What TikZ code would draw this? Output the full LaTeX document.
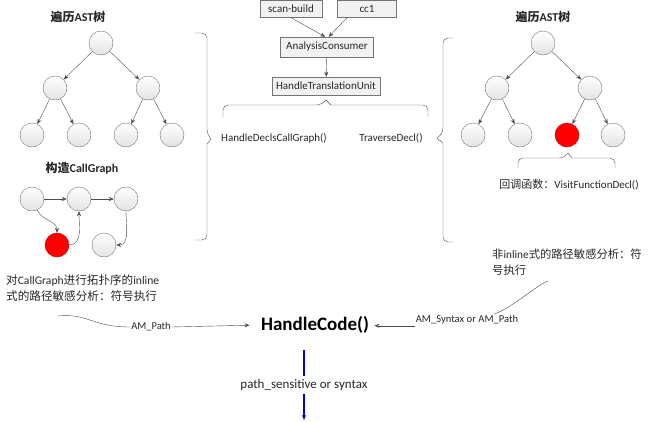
\documentclass[tikz,border=0pt]{standalone}
\usepackage{fontspec}
\setmainfont{Carlito}
\newfontfamily\cjk{Noto Sans CJK SC}
\usetikzlibrary{arrows.meta}

\begin{document}
\begin{tikzpicture}[x=1pt,y=-1pt,>={Stealth[length=5pt,width=4pt]},
    every node/.style={font=\fontsize{11}{14}\selectfont,text=black!85},
    ball/.style={circle,draw=gray!90!black,top color=white,bottom color=gray!22,minimum size=24pt,inner sep=0pt},
    hotball/.style={circle,draw=red!75!black,fill=red,minimum size=24pt,inner sep=0pt},
    stage/.style={draw=gray!90!black,fill=gray!10,minimum height=17pt,inner sep=2pt},
    title/.style={font=\bfseries\fontsize{12}{14}\selectfont},
    link/.style={->,gray!60!black,thin},
    curly/.style={gray!60!black,thin}]

    \useasboundingbox (0,0) rectangle (650,421);

    % left tree
    \node[title] (lefttitle) at (78,17) {{\cjk 遍历}AST{\cjk 树}};
    \node[ball] (lroot) at (101,43) {};
    \node[ball] (la) at (55,88) {};
    \node[ball] (lb) at (148,88) {};
    \node[ball] (la1) at (32,135) {};
    \node[ball] (la2) at (79,135) {};
    \node[ball] (lb1) at (126,135) {};
    \node[ball] (lb2) at (172,135) {};
    \foreach \from/\to in {lroot/la,lroot/lb,la/la1,la/la2,lb/lb1,lb/lb2}
        \draw[link] (\from) -- (\to);

    % call graph
    \node[title] (cgtitle) at (82,168) {{\cjk 构造}CallGraph};
    \node[ball] (cg1) at (32,199) {};
    \node[ball] (cg2) at (79,199) {};
    \node[ball] (cg3) at (126,199) {};
    \node[hotball] (cgred) at (57,245) {};
    \node[ball] (cg5) at (104,245) {};
    \draw[link] (cg1) -- (cg2);
    \draw[link] (cg2) -- (cg3);
    \draw[link] (cg1.-65) to[out=-65,in=90] (cgred.north);
    \draw[link] (cgred.east) to[out=0,in=-90] (cg2.south);
    \draw[link] (cg3.south) to[out=-90,in=0] (cg5.east);
    \node[align=left,anchor=north west,inner sep=0pt,font=\fontsize{11.6}{16}\selectfont] (cgnote) at (6,274)
        {{\cjk 对}CallGraph{\cjk 进行拓扑序的}inline\\{\cjk 式的路径敏感分析：符号执行}};

    % middle column
    \node[stage,minimum width=62pt] (scan) at (291,9) {scan-build};
    \node[stage,minimum width=59pt] (cc) at (367,9) {cc1};
    \node[stage,minimum width=93pt,minimum height=20pt] (consumer) at (327,47) {AnalysisConsumer};
    \node[stage,minimum width=108pt,minimum height=18pt] (htu) at (326,86) {HandleTranslationUnit};
    \draw[link] (scan.south) -- (consumer.100);
    \draw[link] ([xshift=-20pt]cc.south) -- (consumer.80);
    \draw[link] (consumer) -- (htu);
    \draw[curly,rounded corners=5pt] (223,117) -- (223,105) -- (321,105) [sharp corners] -- (326,100) -- (331,105) [rounded corners=5pt] -- (428,105) -- (428,117);
    \node (hdcg) at (274,138) {HandleDeclsCallGraph()};
    \node (tdecl) at (391,138) {TraverseDecl()};

    % big braces
    \draw[curly,rounded corners=5pt] (195,33) -- (207,33) -- (207,134) [sharp corners] -- (211,139) -- (207,144) [rounded corners=5pt] -- (207,240) -- (195,240);
    \draw[curly,rounded corners=5pt] (453,38) -- (443,38) -- (443,133) [sharp corners] -- (437,138) -- (443,143) [rounded corners=5pt] -- (443,242) -- (453,242);

    % right tree
    \node[title] (righttitle) at (543,17) {{\cjk 遍历}AST{\cjk 树}};
    \node[ball] (rroot) at (543,43) {};
    \node[ball] (ra) at (497,88) {};
    \node[ball] (rb) at (590,88) {};
    \node[ball] (ra1) at (473,135) {};
    \node[ball] (ra2) at (520,135) {};
    \node[hotball] (rb1) at (567,135) {};
    \node[ball] (rb2) at (613,135) {};
    \foreach \from/\to in {rroot/ra,rroot/rb,ra/ra1,ra/ra2,rb/rb1,rb/rb2}
        \draw[link] (\from) -- (\to);
    \draw[curly,rounded corners=5pt] (518,168) -- (518,158) -- (564,158) [sharp corners] -- (568,153) -- (572,158) [rounded corners=5pt] -- (615,158) -- (615,168);
    \node (callback) at (569,185) {{\cjk 回调函数：}VisitFunctionDecl()};
    \node[align=left,anchor=north west,inner sep=0pt,font=\fontsize{11.3}{16}\selectfont] (rnote) at (492,249)
        {{\cjk 非}inline{\cjk 式的路径敏感分析：符}\\{\cjk 号执行}};

    % bottom
    \node[font=\bfseries\fontsize{19}{22}\selectfont,text=black] (hc) at (315,325) {HandleCode()};
    \node[font=\fontsize{10.5}{12}\selectfont,inner sep=1pt] (ampath) at (151,327) {AM\_Path};
    \coordinate (lwave) at (58,316);
    \draw[curly] (lwave) .. controls (88,313) and (92,327) .. (ampath.west);
    \draw[link,shorten >=8pt] (ampath.east) -- (hc.west);

    \node[font=\fontsize{10.6}{12}\selectfont,inner sep=1pt] (ampath2) at (467,320) {AM\_Syntax or AM\_Path};
    \coordinate (rwave) at (548,281);
    \draw[curly] (rwave) .. controls (535,286) and (515,306) .. ([xshift=27pt]ampath2.north);
    \draw[link,shorten >=2pt] (ampath2.south west) -- (hc.east |- ampath2.south west);

    \node[font=\fontsize{13}{15}\selectfont] (mode) at (304,385) {path\_sensitive or syntax};
    \coordinate (modeout) at (304,420);
    \draw[blue!85!black,line width=1.1pt,shorten <=13pt] (hc.south -| mode.north) -- (mode.north);
    \draw[->,blue!85!black,line width=1.1pt] (mode.south) -- (modeout);

\end{tikzpicture}
\end{document}
